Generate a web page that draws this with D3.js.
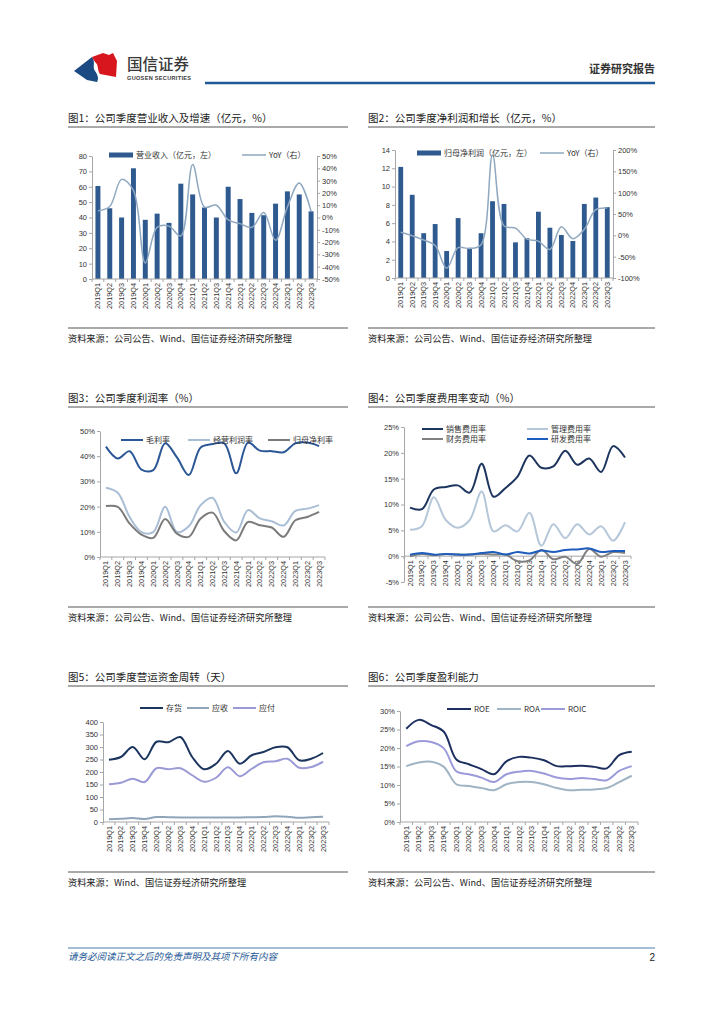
<!DOCTYPE html>
<html>
<head>
<meta charset="utf-8">
<script src="https://cdn.jsdelivr.net/npm/d3@7"></script>
<style>
  body { margin: 0; background: #fff; }
  svg { display: block; }
</style>
</head>
<body>
<script>
// Dades trimestrals llegides del gràfic
const quarters = ["2019Q1","2019Q2","2019Q3","2019Q4","2020Q1","2020Q2","2020Q3","2020Q4",
  "2021Q1","2021Q2","2021Q3","2021Q4","2022Q1","2022Q2","2022Q3","2022Q4","2023Q1","2023Q2","2023Q3"];

// 图1
const revenue = [60.5, 46, 40, 72, 38.5, 42.5, 36.5, 62, 55, 46.5, 40, 60, 52, 43, 41.5, 49, 57, 55, 44];
const revenueYoY = [5.5, 9, 31, 22, -37, -8, -7, -15, 43, 8.5, 10, -2, -5, -8, 4, -18.5, 8.5, 28, 5];
const revenueTicks = [0, 10, 20, 30, 40, 50, 60, 70, 80];
const revenueYoYTicks = [-50, -40, -30, -20, -10, 0, 10, 20, 30, 40, 50];

// 图2
const netProfit = [12.15, 9.1, 4.9, 5.9, 2.95, 6.55, 3.3, 4.9, 8.4, 8.1, 3.9, 4.35, 7.25, 5.5, 4.7, 4.05, 8.1, 8.8, 7.75];
const netProfitYoY = [7, -1, -11, -24, -77, -29, -31, -22, 188, 22, 17, -9, -14, -33, 20, -8, 14, 60, 64];
const netProfitTicks = [0, 2, 4, 6, 8, 10, 12, 14];
const netProfitYoYTicks = [-100, -50, 0, 50, 100, 150, 200];

// 图3
const grossMargin = [43.8, 39.1, 42, 34.7, 34.5, 45.1, 39.5, 32.5, 43.5, 44.8, 45.1, 33.2, 45.4, 42.2, 42, 41.6, 45.1, 45.4, 44];
const opMargin = [27.5, 25.5, 15.9, 9.9, 9.9, 19.9, 9.9, 12.2, 20.6, 23.5, 13.9, 9.7, 18.6, 15.3, 14.2, 12.5, 18.3, 19.2, 20.6];
const netMargin = [20.2, 19.9, 13.3, 8.9, 7.6, 15.1, 9.3, 8, 15.3, 17.6, 10.2, 6.6, 13.9, 12.6, 11.7, 8, 14.6, 15.9, 17.9];
const marginTicks = [0, 10, 20, 30, 40, 50];

// 图4
const sellingRate = [9.4, 9.1, 12.9, 13.4, 13.7, 12.3, 17.9, 11.5, 13.2, 15.4, 19.5, 17.1, 17.4, 20.4, 17.7, 18.9, 16.3, 21.3, 19.1];
const adminRate = [5.1, 5.8, 11.4, 7, 5.5, 7, 12.5, 4.8, 6, 4.8, 8.4, 2, 6.2, 3.5, 6.2, 4.2, 5.8, 3, 6.6];
const financeRate = [0, 0.4, 0.2, 0.4, 0.3, 0.3, 0.4, 0.3, 0.3, -1, -0.8, 1.2, -0.6, -0.1, -1.5, 1.4, -0.1, 0.8, 0.6];
const rdRate = [0.3, 0.6, 0.3, 0.4, 0.3, 0.3, 0.6, 0.8, 0.3, 0.8, 0.5, 1.1, 0.8, 1.2, 1.3, 1.5, 0.8, 1, 1];
const expenseTicks = [-5, 0, 5, 10, 15, 20, 25];

// 图5
const inventoryDays = [249, 260, 300, 251, 321, 319, 340, 260, 211, 233, 284, 233, 267, 280, 299, 299, 247, 253, 276];
const receivableDays = [11, 13, 16, 12, 20, 19, 18, 18, 18, 18, 18, 18, 19, 20, 23, 21, 17, 19, 21];
const payableDays = [151, 157, 173, 160, 215, 211, 215, 187, 161, 177, 219, 183, 213, 239, 243, 253, 217, 220, 241];
const turnoverTicks = [0, 50, 100, 150, 200, 250, 300, 350, 400];

// 图6
const roe = [25.2, 27.6, 26.2, 24.4, 16.9, 15.6, 14.3, 12.9, 16.4, 17.6, 17.4, 16.7, 15.1, 15.1, 15.2, 14.9, 14.5, 18.1, 19];
const roa = [15.1, 16.1, 16.3, 14.9, 10.2, 9.7, 9.2, 8.6, 10.2, 10.8, 10.8, 10.2, 9.2, 8.6, 8.7, 8.8, 9.2, 10.8, 12.5];
const roic = [20.5, 21.8, 21.6, 19.9, 13.7, 12.9, 12, 10.8, 12.9, 13.6, 13.8, 13.1, 12, 11.6, 11.9, 11.6, 11.3, 13.8, 15.1];
const returnTicks = [0, 5, 10, 15, 20, 25, 30];

const cjk = "'Noto Sans CJK SC', sans-serif";
const num = "'Liberation Sans', Arial, sans-serif";
const axisColor = "#a6a6a6";
const brandBlue = "#1f5a96";

const svg = d3.select("body").append("svg").attr("width", 724).attr("height", 1024);
svg.append("rect").attr("width", 724).attr("height", 1024).attr("fill", "#fff");

// ---------- Capçalera ----------
svg.append("path").attr("d", "M74,71 L92,57 C96,62 92,67 95,71 C98,75 99,79 97,82 L87,80 Z").attr("fill", "#1b4b82");
svg.append("path").attr("d", "M92,57 L103,53 L109,55 L113,53 L117,61 L116,77 L100,74 C97,70 99,65 95,62 Z").attr("fill", "#d7161e");
svg.append("text").attr("x", 127).attr("y", 70).attr("font-family", cjk).attr("font-size", 15.5)
    .attr("font-weight", 500).attr("fill", "#3a3a3a").text("国信证券");
svg.append("text").attr("x", 127).attr("y", 79.5).attr("font-family", num).attr("font-size", 5.6)
    .attr("font-weight", "bold").attr("fill", "#3a3a3a").attr("textLength", 64).text("GUOSEN SECURITIES");
svg.append("text").attr("x", 655).attr("y", 73).attr("text-anchor", "end").attr("font-family", cjk)
    .attr("font-size", 11).attr("font-weight", "bold").attr("fill", "#333").text("证券研究报告");
svg.append("line").attr("x1", 205).attr("x2", 655).attr("y1", 83).attr("y2", 83)
    .attr("stroke", brandBlue).attr("stroke-width", 2.5);

// ---------- Peu de pàgina ----------
svg.append("line").attr("x1", 68).attr("x2", 655).attr("y1", 948).attr("y2", 948).attr("stroke", brandBlue).attr("stroke-width", 0.8);
svg.append("text").attr("x", 68).attr("y", 960).attr("font-family", cjk).attr("font-size", 9.5)
    .attr("font-style", "italic").attr("fill", brandBlue).text("请务必阅读正文之后的免责声明及其项下所有内容");
svg.append("text").attr("x", 655).attr("y", 961).attr("text-anchor", "end").attr("font-family", num)
    .attr("font-size", 10).attr("fill", "#222").text("2");

// ---------- Marc de cada gràfic: títol, línies i font ----------
function frame(x0, x1, titleY, sourceY, title, source) {
    svg.append("text").attr("x", x0).attr("y", titleY).attr("font-family", cjk).attr("font-size", 10.5)
        .attr("fill", "#222").text(title);
    svg.append("line").attr("x1", x0).attr("x2", x1).attr("y1", titleY + 5).attr("y2", titleY + 5)
        .attr("stroke", "#555").attr("stroke-width", 1);
    svg.append("line").attr("x1", x0).attr("x2", x1).attr("y1", sourceY - 14).attr("y2", sourceY - 14)
        .attr("stroke", "#555").attr("stroke-width", 1);
    svg.append("text").attr("x", x0).attr("y", sourceY).attr("font-family", cjk).attr("font-size", 9.2)
        .attr("fill", "#222").text(source);
}

const src = "资料来源：公司公告、Wind、国信证券经济研究所整理";
frame(68, 348, 122, 342, "图1：公司季度营业收入及增速（亿元，%）", src);
frame(368, 655, 122, 342, "图2：公司季度净利润和增长（亿元，%）", src);
frame(68, 348, 402, 621, "图3：公司季度利润率（%）", src);
frame(368, 655, 402, 621, "图4：公司季度费用率变动（%）", src);
frame(68, 348, 681, 886, "图5：公司季度营运资金周转（天）", "资料来源：Wind、国信证券经济研究所整理");
frame(368, 655, 681, 886, "图6：公司季度盈利能力", src);

// ---------- Eixos ----------
function styleAxis(g) {
    g.select(".domain").attr("stroke", axisColor);
    g.selectAll(".tick line").attr("stroke", axisColor);
    g.selectAll("text").attr("fill", "#333").style("font-size", "7.5px").style("font-family", num);
}

function leftAxis(y, x0, ticks, fmt) {
    svg.append("g").attr("transform", `translate(${x0},0)`)
        .call(d3.axisLeft(y).tickValues(ticks).tickFormat(fmt).tickSize(3).tickSizeOuter(0).tickPadding(2))
        .call(styleAxis);
}

function rightAxis(y, x1, ticks, fmt) {
    svg.append("g").attr("transform", `translate(${x1},0)`)
        .call(d3.axisRight(y).tickValues(ticks).tickFormat(fmt).tickSize(3).tickSizeOuter(0).tickPadding(2))
        .call(styleAxis);
}

function quarterAxis(x, yPos) {
    const [r0, r1] = x.range();
    const g = svg.append("g");
    g.append("line").attr("x1", r0).attr("x2", r1).attr("y1", yPos).attr("y2", yPos).attr("stroke", axisColor);
    const edges = quarters.map(q => x(q)).concat([r1]);
    g.selectAll(".qtick").data(edges).join("line")
        .attr("x1", d => d).attr("x2", d => d).attr("y1", yPos).attr("y2", yPos + 3).attr("stroke", axisColor);
    g.selectAll(".qlabel").data(quarters).join("text")
        .attr("transform", d => `translate(${x(d) + x.bandwidth() / 2},${yPos + 4}) rotate(-90)`)
        .attr("text-anchor", "end").attr("dy", "0.35em")
        .attr("font-family", num).attr("font-size", 7.3).attr("fill", "#333")
        .text(d => d);
}

const smooth = d3.curveCatmullRom.alpha(0.5);

function drawLine(x, y, values, color, width) {
    const line = d3.line()
        .x((d, i) => x(quarters[i]) + x.bandwidth() / 2)
        .y(d => y(d))
        .curve(smooth);
    svg.append("path").datum(values).attr("d", line)
        .attr("fill", "none").attr("stroke", color).attr("stroke-width", width);
}

function drawBars(x, y, values, color) {
    const w = x.bandwidth() * 0.42;
    svg.append("g").selectAll("rect").data(values).join("rect")
        .attr("x", (d, i) => x(quarters[i]) + (x.bandwidth() - w) / 2)
        .attr("y", d => y(d))
        .attr("width", w)
        .attr("height", d => y(0) - y(d))
        .attr("fill", color);
}

function legendLine(x, y, w, color, width, label) {
    svg.append("line").attr("x1", x).attr("x2", x + w).attr("y1", y).attr("y2", y)
        .attr("stroke", color).attr("stroke-width", width);
    svg.append("text").attr("x", x + w + 3).attr("y", y).attr("dy", "0.35em")
        .attr("font-family", cjk).attr("font-size", 8).attr("fill", "#333").text(label);
}

function legendBar(x, y, w, color, label) {
    svg.append("rect").attr("x", x).attr("y", y - 2.5).attr("width", w).attr("height", 5).attr("fill", color);
    svg.append("text").attr("x", x + w + 3).attr("y", y).attr("dy", "0.35em")
        .attr("font-family", cjk).attr("font-size", 8).attr("fill", "#333").text(label);
}

const pct = d => d + "%";
const barColor = "#2f5a8f";

// ---------- 图1 ----------
{
    const x = d3.scaleBand().domain(quarters).range([92, 317]);
    const y = d3.scaleLinear().domain([0, 80]).range([279, 156]);
    const y2 = d3.scaleLinear().domain([-50, 50]).range([279, 156]);
    drawBars(x, y, revenue, barColor);
    leftAxis(y, 92, revenueTicks, d => d);
    rightAxis(y2, 317, revenueYoYTicks, pct);
    quarterAxis(x, 279);
    drawLine(x, y2, revenueYoY, "#8fa8c0", 1.5);
    legendBar(109, 155, 24, barColor, "营业收入（亿元，左）");
    legendLine(242, 155, 24, "#8fa8c0", 1.5, "YoY（右）");
}

// ---------- 图2 ----------
{
    const x = d3.scaleBand().domain(quarters).range([395, 613]);
    const y = d3.scaleLinear().domain([0, 14]).range([278, 150]);
    const y2 = d3.scaleLinear().domain([-100, 200]).range([278, 150]);
    drawBars(x, y, netProfit, barColor);
    leftAxis(y, 395, netProfitTicks, d => d);
    rightAxis(y2, 613, netProfitYoYTicks, pct);
    quarterAxis(x, 278);
    drawLine(x, y2, netProfitYoY, "#8fa8c0", 1.5);
    legendBar(417, 153, 24, barColor, "归母净利润（亿元，左）");
    legendLine(540, 153, 24, "#8fa8c0", 1.5, "YoY（右）");
}

// ---------- 图3 ----------
{
    const x = d3.scaleBand().domain(quarters).range([100, 325]);
    const y = d3.scaleLinear().domain([0, 50]).range([557, 431]);
    leftAxis(y, 100, marginTicks, pct);
    quarterAxis(x, 557);
    drawLine(x, y, opMargin, "#a9bed5", 2);
    drawLine(x, y, netMargin, "#7b7b7b", 2);
    drawLine(x, y, grossMargin, "#2b5797", 2);
    legendLine(121, 440, 22, "#2b5797", 2, "毛利率");
    legendLine(188, 440, 22, "#a9bed5", 2, "经营利润率");
    legendLine(268, 440, 22, "#7b7b7b", 2, "归母净利率");
}

// ---------- 图4 ----------
{
    const x = d3.scaleBand().domain(quarters).range([404, 631]);
    const y = d3.scaleLinear().domain([-5, 25]).range([582, 427]);
    leftAxis(y, 404, expenseTicks, pct);
    quarterAxis(x, y(0));
    drawLine(x, y, adminRate, "#b5c7d9", 2);
    drawLine(x, y, financeRate, "#808080", 2);
    drawLine(x, y, rdRate, "#1f5dbd", 2);
    drawLine(x, y, sellingRate, "#1c355e", 2);
    legendLine(422, 429, 21, "#1c355e", 2, "销售费用率");
    legendLine(527, 429, 21, "#b5c7d9", 2, "管理费用率");
    legendLine(422, 439, 21, "#808080", 2, "财务费用率");
    legendLine(527, 439, 21, "#1f5dbd", 2, "研发费用率");
}

// ---------- 图5 ----------
{
    const x = d3.scaleBand().domain(quarters).range([103, 329]);
    const y = d3.scaleLinear().domain([0, 400]).range([822, 722]);
    leftAxis(y, 103, turnoverTicks, d => d);
    quarterAxis(x, 822);
    drawLine(x, y, receivableDays, "#8fa6ba", 2);
    drawLine(x, y, payableDays, "#9a9ad6", 2);
    drawLine(x, y, inventoryDays, "#1c355e", 2);
    legendLine(140, 708, 23, "#1c355e", 2, "存货");
    legendLine(187, 708, 22, "#8fa6ba", 2, "应收");
    legendLine(233, 708, 23, "#9a9ad6", 2, "应付");
}

// ---------- 图6 ----------
{
    const x = d3.scaleBand().domain(quarters).range([400, 638]);
    const y = d3.scaleLinear().domain([0, 30]).range([822, 711]);
    leftAxis(y, 400, returnTicks, pct);
    quarterAxis(x, 822);
    drawLine(x, y, roa, "#9fb4c4", 2);
    drawLine(x, y, roic, "#9b9bdc", 2);
    drawLine(x, y, roe, "#1c2f5e", 2);
    legendLine(447, 709, 24, "#1c2f5e", 2, "ROE");
    legendLine(497, 709, 24, "#9fb4c4", 2, "ROA");
    legendLine(541, 709, 24, "#9b9bdc", 2, "ROIC");
}
</script>
</body>
</html>
